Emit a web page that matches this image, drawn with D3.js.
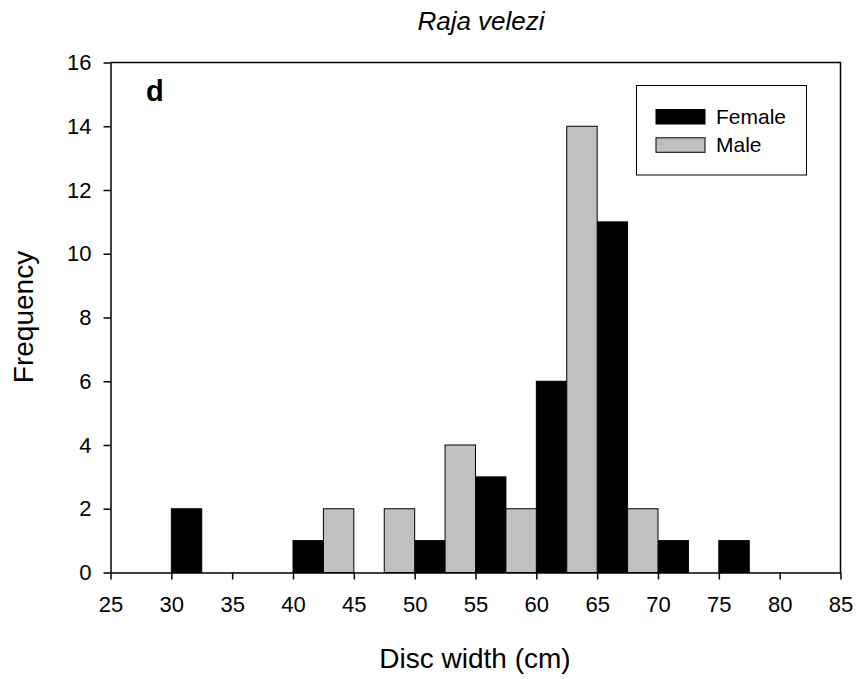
<!DOCTYPE html>
<html>
<head>
<meta charset="utf-8">
<script src="https://cdn.jsdelivr.net/npm/d3@7"></script>
<style>
  body { margin: 0; background: #fff; }
  svg text { font-family: "Liberation Sans", Arial, sans-serif; fill: #000; }
</style>
</head>
<body>
<svg id="chart" width="860" height="679"></svg>
<script>
// histogram bins (left edge, cm) and counts
var binWidth = 2.5;
var femaleStart = [30, 40, 50, 55, 60, 65, 70, 75];
var femaleCount = [2, 1, 1, 3, 6, 11, 1, 1];
var maleStart = [42.5, 47.5, 52.5, 57.5, 62.5, 67.5];
var maleCount = [2, 2, 4, 2, 14, 2];
var xTicks = [25, 30, 35, 40, 45, 50, 55, 60, 65, 70, 75, 80, 85];
var yTicks = [0, 2, 4, 6, 8, 10, 12, 14, 16];
var legendLabels = ['Female', 'Male'];
var colors = ['#000000', '#c0c0c0'];

var svg = d3.select('#chart');

// plot area (note: "top" is reserved on window, so use plot* names)
var plotLeft = 110.5, plotRight = 840.5, plotTop = 62.5, plotBottom = 572.5;

var x = d3.scaleLinear().domain([25, 85]).range([plotLeft, plotRight]);
var y = d3.scaleLinear().domain([0, 16]).range([plotBottom, plotTop]);

// build series from the arrays
var series = [
  femaleStart.map(function (s, i) { return { x0: s, n: femaleCount[i] }; }),
  maleStart.map(function (s, i) { return { x0: s, n: maleCount[i] }; })
];

series.forEach(function (bins, k) {
  svg.append('g').selectAll('rect')
    .data(bins)
    .enter().append('rect')
    .attr('x', function (d) { return x(d.x0); })
    .attr('y', function (d) { return y(d.n); })
    .attr('width', function (d) { return x(d.x0 + binWidth) - x(d.x0); })
    .attr('height', function (d) { return y(0) - y(d.n); })
    .attr('fill', colors[k])
    .attr('stroke', '#000')
    .attr('stroke-width', 1);
});

// frame on top and right
svg.append('path')
  .attr('d', 'M' + plotLeft + ',' + plotTop + 'H' + plotRight + 'V' + plotBottom)
  .attr('fill', 'none')
  .attr('stroke', '#000')
  .attr('stroke-width', 1.5);

// axes
var xAxis = svg.append('g')
  .attr('transform', 'translate(0,' + plotBottom + ')')
  .call(d3.axisBottom(x).tickValues(xTicks).tickSize(7).tickSizeOuter(0).tickPadding(17));

var yAxis = svg.append('g')
  .attr('transform', 'translate(' + plotLeft + ',0)')
  .call(d3.axisLeft(y).tickValues(yTicks).tickSize(7).tickSizeOuter(0).tickPadding(12));

[xAxis, yAxis].forEach(function (g) {
  g.attr('font-size', 22).attr('font-family', '"Liberation Sans", Arial, sans-serif');
  g.selectAll('.domain').attr('stroke-width', 1.5);
  g.selectAll('.tick line').attr('stroke-width', 1.5);
});

// titles
svg.append('text')
  .attr('x', 481).attr('y', 30)
  .attr('text-anchor', 'middle')
  .attr('font-size', 26)
  .attr('font-style', 'italic')
  .text('Raja velezi');

svg.append('text')
  .attr('x', 475).attr('y', 668)
  .attr('text-anchor', 'middle')
  .attr('font-size', 28)
  .text('Disc width (cm)');

svg.append('text')
  .attr('transform', 'translate(33,317) rotate(-90)')
  .attr('text-anchor', 'middle')
  .attr('font-size', 28)
  .text('Frequency');

// panel letter
svg.append('text')
  .attr('x', 146).attr('y', 101)
  .attr('font-size', 29)
  .attr('font-weight', 'bold')
  .text('d');

// legend
var legend = svg.append('g');
legend.append('rect')
  .attr('x', 636.5).attr('y', 85.5)
  .attr('width', 170).attr('height', 89.5)
  .attr('fill', '#fff')
  .attr('stroke', '#000')
  .attr('stroke-width', 1);

legendLabels.forEach(function (label, i) {
  legend.append('rect')
    .attr('x', 656).attr('y', 109.5 + i * 28.3)
    .attr('width', 49).attr('height', 14.5)
    .attr('fill', colors[i])
    .attr('stroke', '#000')
    .attr('stroke-width', 1);
  legend.append('text')
    .attr('x', 716).attr('y', 123.5 + i * 28.3)
    .attr('font-size', 21)
    .text(label);
});
</script>
</body>
</html>
